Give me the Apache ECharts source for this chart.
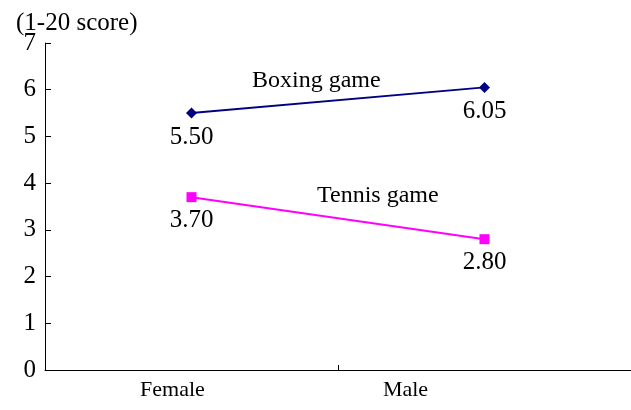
<!DOCTYPE html>
<html>
<head>
<meta charset="utf-8">
<script src="https://cdn.jsdelivr.net/npm/echarts@6/dist/echarts.min.js"></script>
<style>
  html, body { margin: 0; padding: 0; background: #fff; }
  #chart { width: 631px; height: 410px; }
</style>
</head>
<body>
<div id="chart"></div>
<script>
var categories = ['Female', 'Male'];
var boxing = [5.50, 6.05];
var tennis = [3.70, 2.80];
var yTicks = [0, 1, 2, 3, 4, 5, 6, 7];

var serif = '"Liberation Serif", "Times New Roman", serif';

var chart = echarts.init(document.getElementById('chart'));

var option = {
  animation: false,
  title: {
    text: '(1-20 score)',
    left: 11,
    top: 6,
    textStyle: { fontFamily: serif, fontSize: 25, fontWeight: 'normal', color: '#000' }
  },
  grid: { left: 45, width: 596, top: 43, bottom: 40 },
  xAxis: {
    type: 'category',
    data: categories,
    boundaryGap: true,
    axisLine: { lineStyle: { color: '#000', width: 1 } },
    axisTick: {
      show: true, inside: true, length: 5, interval: 0,
      lineStyle: { color: '#000' }
    },
    axisLabel: {
      margin: 9,
      formatter: function (v, i) {
        return i === 0 ? '{a|' + v + '}' : '{b|' + v + '}';
      },
      rich: {
        a: { fontFamily: serif, fontSize: 22, color: '#000', padding: [0, 38, 0, 0] },
        b: { fontFamily: serif, fontSize: 22, color: '#000', padding: [0, 158, 0, 0] }
      }
    }
  },
  yAxis: {
    type: 'value',
    min: yTicks[0],
    max: yTicks[yTicks.length - 1],
    interval: 1,
    splitLine: { show: false },
    axisLine: { show: true, lineStyle: { color: '#000', width: 1 } },
    axisTick: { show: true, inside: true, length: 6, lineStyle: { color: '#000' } },
    axisLabel: {
      fontFamily: serif, fontSize: 25, color: '#000', margin: 9,
      padding: [10, 0, 0, 0]
    }
  },
  graphic: [
    {
      type: 'text', left: 252, top: 69,
      style: { text: 'Boxing game', font: '24px ' + serif, fill: '#000' }
    },
    {
      type: 'text', left: 317, top: 184,
      style: { text: 'Tennis game', font: '24px ' + serif, fill: '#000' }
    }
  ],
  series: [
    {
      name: 'Boxing game',
      type: 'line',
      data: boxing,
      symbol: 'diamond',
      symbolSize: 11,
      itemStyle: { color: '#000080' },
      lineStyle: { color: '#000080', width: 2 },
      label: {
        show: true, position: 'bottom', distance: 6,
        formatter: function (p) { return p.value.toFixed(2); },
        fontFamily: serif, fontSize: 25, color: '#000'
      }
    },
    {
      name: 'Tennis game',
      type: 'line',
      data: tennis,
      symbol: 'rect',
      symbolSize: 10,
      itemStyle: { color: '#ff00ff' },
      lineStyle: { color: '#ff00ff', width: 2 },
      label: {
        show: true, position: 'bottom', distance: 6,
        formatter: function (p) { return p.value.toFixed(2); },
        fontFamily: serif, fontSize: 25, color: '#000'
      }
    }
  ]
};

chart.setOption(option);
</script>
</body>
</html>
